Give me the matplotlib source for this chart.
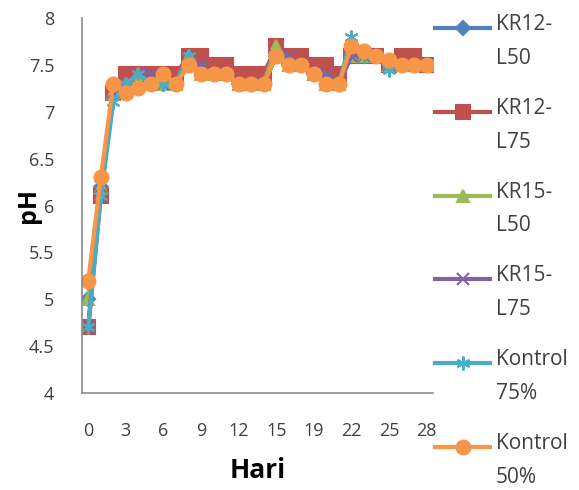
import matplotlib.pyplot as plt
from matplotlib.lines import Line2D

days = list(range(0, 16)) + [17, 18] + list(range(19, 29))

kr12_l50 = [5.0, 6.2, 7.2, 7.3, 7.4, 7.4, 7.3, 7.3, 7.5, 7.5, 7.4, 7.4, 7.3, 7.3,
            7.3, 7.6, 7.5, 7.5, 7.4, 7.4, 7.3, 7.6, 7.6, 7.6, 7.5, 7.5, 7.6, 7.5]
kr12_l75 = [4.7, 6.1, 7.2, 7.4, 7.4, 7.4, 7.4, 7.4, 7.6, 7.6, 7.5, 7.5, 7.4, 7.4,
            7.4, 7.7, 7.6, 7.6, 7.5, 7.5, 7.4, 7.6, 7.6, 7.6, 7.5, 7.6, 7.6, 7.5]
kr15_l50 = [5.0, 6.2, 7.2, 7.3, 7.4, 7.3, 7.3, 7.3, 7.6, 7.4, 7.4, 7.4, 7.3, 7.3,
            7.3, 7.7, 7.5, 7.5, 7.4, 7.3, 7.3, 7.6, 7.6, 7.6, 7.5, 7.5, 7.5, 7.5]
kr15_l75 = [4.7, 6.2, 7.2, 7.3, 7.4, 7.4, 7.3, 7.3, 7.5, 7.5, 7.4, 7.4, 7.3, 7.3,
            7.3, 7.6, 7.6, 7.5, 7.4, 7.4, 7.3, 7.6, 7.6, 7.6, 7.5, 7.5, 7.5, 7.5]
kontrol_75 = [4.7, 6.1, 7.1, 7.3, 7.4, 7.3, 7.3, 7.3, 7.6, 7.4, 7.4, 7.4, 7.3, 7.3,
              7.3, 7.6, 7.5, 7.5, 7.4, 7.3, 7.3, 7.8, 7.6, 7.6, 7.45, 7.5, 7.5, 7.5]
kontrol_50 = [5.2, 6.3, 7.3, 7.2, 7.25, 7.3, 7.4, 7.3, 7.5, 7.4, 7.4, 7.4, 7.3, 7.3,
              7.3, 7.6, 7.5, 7.5, 7.4, 7.3, 7.3, 7.7, 7.65, 7.6, 7.55, 7.5, 7.5, 7.5]

labels = ['KR12-\nL50', 'KR12-\nL75', 'KR15-\nL50', 'KR15-\nL75',
          'Kontrol\n75%', 'Kontrol\n50%']
series = [kr12_l50, kr12_l75, kr15_l50, kr15_l75, kontrol_75, kontrol_50]
colors = ['#4F81BD', '#C0504D', '#9BBB59', '#8064A2', '#4BACC6', '#F79646']
markers = ['D', 's', '^', 'x', (6, 2, 0), 'o']
msizes = [7, 9.5, 9, 9, 10, 10]

plt.rcParams['font.family'] = ['Open Sans', 'DejaVu Sans']

fig = plt.figure(figsize=(5.79, 4.90), dpi=100)
ax = fig.add_axes([0.1416, 0.198, 0.606, 0.765])

x = list(range(len(days)))
for vals, col, mk, ms in zip(series, colors, markers, msizes):
    ax.plot(x, vals, color=col, lw=3, marker=mk, ms=ms, mec=col, mew=1.5)

ax.set_xlim(-0.5, len(days) - 0.5)
ax.set_ylim(4, 8)
ax.set_yticks([4, 4.5, 5, 5.5, 6, 6.5, 7, 7.5, 8])
ax.set_yticklabels(['4', '4.5', '5', '5.5', '6', '6.5', '7', '7.5', '8'])
ax.set_xticks(x[::3])
ax.set_xticklabels([str(d) for d in days[::3]])
ax.tick_params(length=0, labelsize=13, colors='#404040')
ax.tick_params(axis='y', pad=20)
ax.tick_params(axis='x', pad=21)
for s in ['top', 'right']:
    ax.spines[s].set_visible(False)
for s in ['left', 'bottom']:
    ax.spines[s].set_color('#8c8c8c')
    ax.spines[s].set_linewidth(1.2)

ax.set_xlabel('Hari', fontsize=19, fontweight='bold', labelpad=12)
ax.set_ylabel('pH', fontsize=18, fontweight='bold', labelpad=-9)

# legend drawn by hand so the line sits on the first text row
for i, (lab, col, mk, ms) in enumerate(zip(labels, colors, markers, msizes)):
    yy = 1 - (28 + 83.8 * i) / 490
    fig.add_artist(Line2D([435 / 579, 490 / 579], [yy, yy], color=col, lw=3,
                          transform=fig.transFigure))
    fig.add_artist(Line2D([462.5 / 579], [yy], color=col, marker=mk, ms=ms,
                          mec=col, mew=1.5, transform=fig.transFigure))
    fig.text(496 / 579, yy + 14 / 490, lab, fontsize=15, color='#404040',
             va='top', ha='left', linespacing=1.8)

plt.savefig('out.png', dpi=100)
